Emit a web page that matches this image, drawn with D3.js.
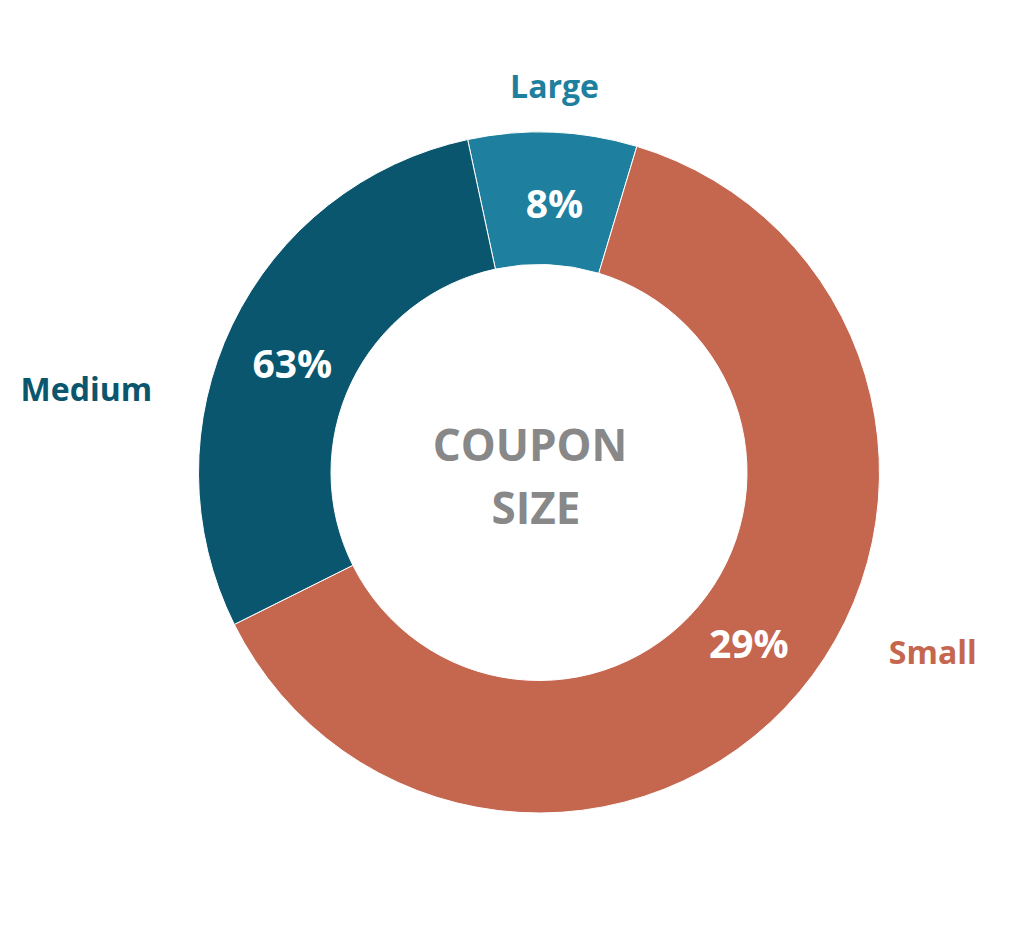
<!DOCTYPE html>
<html>
<head>
<meta charset="utf-8">
<script src="https://cdn.jsdelivr.net/npm/d3@7"></script>
<style>
  html, body { margin: 0; padding: 0; background: #ffffff; }
  svg { display: block; font-family: "Open Sans", sans-serif; }
</style>
</head>
<body>
<svg id="chart" width="1013" height="947"></svg>
<script>
// ---- data ----
const categories = ["Large", "Small", "Medium"];
const sliceValues = [8, 63, 29];
const percentLabels = ["8%", "29%", "63%"];
const sliceColors = ["#1e7f9e", "#c5664f", "#0a566f"];
const centerTitle = ["COUPON", "SIZE"];

// ---- layout ----
const W = 1013, H = 947;
const cx = 539, cy = 472.5;
const outerR = 340.5, innerR = 208;
const startDeg = -12.1;
const rad = Math.PI / 180;
const pctR = 270;
const pctShiftDeg = [1, -1.1, -1.7];
const outerLabelR = [387, 393, 396];
const outerLabelShiftDeg = [0, -13, -13.4];

const svg = d3.select("#chart");
const g = svg.append("g").attr("transform", `translate(${cx},${cy})`);

const pie = d3.pie().sort(null).value(d => d)
  .startAngle(startDeg * rad).endAngle(startDeg * rad + 2 * Math.PI);
const arcs = pie(sliceValues);

const arc = d3.arc().innerRadius(innerR).outerRadius(outerR);

g.selectAll("path.slice").data(arcs).join("path")
  .attr("class", "slice")
  .attr("d", arc)
  .attr("fill", (d, i) => sliceColors[i])
  .attr("stroke", "#ffffff")
  .attr("stroke-width", 1);

const polar = (a, r) => [r * Math.sin(a), -r * Math.cos(a)];
const mid = d => (d.startAngle + d.endAngle) / 2;

g.selectAll("text.pct").data(arcs).join("text")
  .attr("class", "pct")
  .attr("transform", (d, i) => `translate(${polar(mid(d) + pctShiftDeg[i] * rad, pctR)})`)
  .attr("text-anchor", "middle")
  .attr("dominant-baseline", "central")
  .attr("fill", "#ffffff")
  .attr("font-weight", 700)
  .attr("font-size", 39)
  .text((d, i) => percentLabels[i]);

g.selectAll("text.cat").data(arcs).join("text")
  .attr("class", "cat")
  .each(function(d, i) {
    const a = mid(d) + outerLabelShiftDeg[i] * rad;
    const [x, y] = polar(a, outerLabelR[i]);
    const s = Math.sin(a);
    const anchor = Math.abs(s) < 0.3 ? "middle" : (s > 0 ? "start" : "end");
    d3.select(this)
      .attr("x", x).attr("y", y)
      .attr("text-anchor", anchor);
  })
  .attr("dominant-baseline", "central")
  .attr("fill", (d, i) => sliceColors[i])
  .attr("font-weight", 700)
  .attr("font-size", 32)
  .text((d, i) => categories[i]);

const title = g.append("text")
  .attr("text-anchor", "middle")
  .attr("fill", "#888888")
  .attr("font-weight", 700)
  .attr("font-size", 44);
title.selectAll("tspan").data(centerTitle).join("tspan")
  .attr("x", (d, i) => i === 0 ? -9 : -3)
  .attr("y", (d, i) => -11.5 + i * 63)
  .text(d => d);
</script>
</body>
</html>
